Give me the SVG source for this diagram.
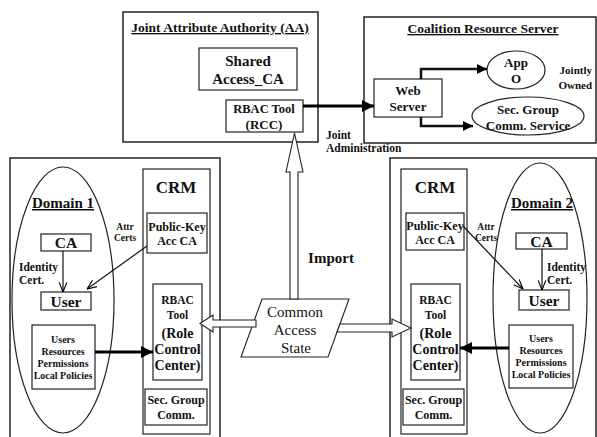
<svg xmlns="http://www.w3.org/2000/svg" width="597" height="437" viewBox="0 0 597 437">
<style>
.b{fill:#fff;stroke:#222;stroke-width:1.2}
.o{fill:none;stroke:#222;stroke-width:1.5}
.t{font-family:"Liberation Serif","Times New Roman",serif;font-weight:bold;fill:#111;text-anchor:middle}
.n{font-family:"Liberation Serif","Times New Roman",serif;fill:#111;text-anchor:middle}
.l{fill:none;stroke:#111;stroke-width:1.2}
.k{fill:none;stroke:#000;stroke-width:3}
.h{fill:#fff;stroke:#222;stroke-width:1.1}
</style>
<defs>
<marker id="fa" viewBox="0 0 10 10" refX="10" refY="5" markerWidth="4" markerHeight="4" orient="auto" markerUnits="strokeWidth"><path d="M0,0L10,5L0,10z" fill="#000"/></marker>
<marker id="va" viewBox="0 0 10 10" refX="10" refY="5" markerWidth="8" markerHeight="8" orient="auto" markerUnits="strokeWidth"><path d="M0,1L10,5L0,9" fill="none" stroke="#000" stroke-width="1.2"/></marker>
</defs>
<rect width="597" height="437" fill="#fff"/>

<g id="aa">
<rect class="o" x="123" y="12" width="195" height="130"/>
<text class="t" x="220" y="32" font-size="13.5" text-decoration="underline">Joint Attribute Authority (AA)</text>
</g>
<g id="shared-ca">
<rect class="b" x="199" y="48" width="98" height="42"/>
<text class="t" x="248" y="66" font-size="15">Shared</text>
<text class="t" x="248" y="84" font-size="15">Access_CA</text>
</g>
<g id="rcc">
<rect class="b" x="226" y="100" width="77" height="32"/>
<text class="t" x="264" y="113" font-size="12.5">RBAC Tool</text>
<text class="t" x="264" y="129" font-size="13">(RCC)</text>
</g>

<g id="coalition">
<rect class="o" x="364" y="17" width="232" height="126"/>
<text class="t" x="483" y="33" font-size="13.5" text-decoration="underline">Coalition Resource Server</text>
</g>
<g id="web-server">
<rect class="b" x="374" y="79" width="68" height="38"/>
<text class="t" x="408" y="95" font-size="13">Web</text>
<text class="t" x="408" y="111" font-size="13">Server</text>
</g>
<g id="app-o">
<ellipse class="b" cx="516" cy="70" rx="29" ry="19"/>
<text class="t" x="516" y="67" font-size="13">App</text>
<text class="t" x="516" y="83" font-size="13">O</text>
</g>
<g id="sec-service">
<ellipse class="b" cx="528" cy="116" rx="56" ry="19"/>
<text class="t" x="528" y="114" font-size="13">Sec. Group</text>
<text class="t" x="528" y="130" font-size="13">Comm. Service</text>
</g>
<g id="jointly-owned">
<text class="t" x="592" y="74" font-size="11" text-anchor="end" style="text-anchor:end">Jointly</text>
<text class="t" x="592" y="89" font-size="11" style="text-anchor:end">Owned</text>
</g>
<g id="joint-admin">
<text class="t" x="326" y="139" font-size="11.5" style="text-anchor:start">Joint</text>
<text class="t" x="326" y="152" font-size="11.5" style="text-anchor:start">Administration</text>
</g>

<g id="left-panel">
<rect class="o" x="10" y="158" width="210" height="300"/>
<rect class="o" x="143" y="169" width="67" height="265" style="stroke-width:1.2"/>
<text class="t" x="176" y="193" font-size="17">CRM</text>
</g>
<g id="domain1">
<ellipse class="b" cx="63" cy="300" rx="51" ry="133"/>
<text class="t" x="63" y="208" font-size="15" text-decoration="underline">Domain 1</text>
</g>
<g id="ca1">
<rect class="b" x="41" y="234" width="50" height="17"/>
<text class="t" x="66" y="248" font-size="15.5">CA</text>
</g>
<g id="user1">
<rect class="b" x="41" y="292" width="50" height="18"/>
<text class="t" x="66" y="307" font-size="15.5">User</text>
</g>
<g id="local1">
<rect class="b" x="32" y="325" width="63" height="64"/>
<text class="t" x="63" y="343" font-size="10">Users</text>
<text class="t" x="63" y="355" font-size="10">Resources</text>
<text class="t" x="63" y="367" font-size="10">Permissions</text>
<text class="t" x="63" y="379" font-size="10">Local Policies</text>
</g>
<g id="pk1">
<rect class="b" x="147" y="213" width="60" height="40"/>
<text class="t" x="177" y="231" font-size="12">Public-Key</text>
<text class="t" x="177" y="245" font-size="12">Acc CA</text>
</g>
<g id="rbac1">
<rect class="b" x="153" y="284" width="49" height="96"/>
<text class="t" x="177.5" y="304" font-size="11.5">RBAC</text>
<text class="t" x="177.5" y="319" font-size="11.5">Tool</text>
<text class="t" x="177.5" y="338" font-size="14">(Role</text>
<text class="t" x="177.5" y="354" font-size="14">Control</text>
<text class="t" x="177.5" y="370" font-size="14">Center)</text>
</g>
<g id="sec1">
<rect class="b" x="145" y="389" width="62" height="36"/>
<text class="t" x="176" y="404" font-size="12">Sec. Group</text>
<text class="t" x="176" y="419" font-size="12">Comm.</text>
</g>
<g id="labels-left">
<text class="t" x="19" y="271" font-size="11.5" style="text-anchor:start">Identity</text>
<text class="t" x="19" y="284" font-size="11.5" style="text-anchor:start">Cert.</text>
<text class="t" x="125" y="230" font-size="9.5">Attr</text>
<text class="t" x="125" y="241" font-size="9.5">Certs</text>
</g>

<g id="right-panel">
<rect class="o" x="390" y="158" width="206" height="300"/>
<rect class="o" x="401" y="169" width="66" height="265" style="stroke-width:1.2"/>
<text class="t" x="435" y="193" font-size="17">CRM</text>
</g>
<g id="domain2">
<ellipse class="b" cx="540" cy="298" rx="47" ry="135"/>
<text class="t" x="542" y="208" font-size="15" text-decoration="underline">Domain 2</text>
</g>
<g id="ca2">
<rect class="b" x="516" y="233" width="51" height="16"/>
<text class="t" x="541.5" y="247" font-size="15.5">CA</text>
</g>
<g id="user2">
<rect class="b" x="519" y="290" width="50" height="20"/>
<text class="t" x="544" y="306" font-size="15.5">User</text>
</g>
<g id="local2">
<rect class="b" x="509" y="325" width="64" height="63"/>
<text class="t" x="541" y="342" font-size="10">Users</text>
<text class="t" x="541" y="354" font-size="10">Resources</text>
<text class="t" x="541" y="366" font-size="10">Permissions</text>
<text class="t" x="541" y="378" font-size="10">Local Policies</text>
</g>
<g id="pk2">
<rect class="b" x="406" y="213" width="58" height="37"/>
<text class="t" x="435" y="230" font-size="12">Public-Key</text>
<text class="t" x="435" y="244" font-size="12">Acc CA</text>
</g>
<g id="rbac2">
<rect class="b" x="411" y="284" width="49" height="96"/>
<text class="t" x="435.5" y="304" font-size="11.5">RBAC</text>
<text class="t" x="435.5" y="319" font-size="11.5">Tool</text>
<text class="t" x="435.5" y="338" font-size="14">(Role</text>
<text class="t" x="435.5" y="354" font-size="14">Control</text>
<text class="t" x="435.5" y="370" font-size="14">Center)</text>
</g>
<g id="sec2">
<rect class="b" x="403" y="389" width="61" height="36"/>
<text class="t" x="433.5" y="404" font-size="12">Sec. Group</text>
<text class="t" x="433.5" y="419" font-size="12">Comm.</text>
</g>
<g id="labels-right">
<text class="t" x="547" y="271" font-size="11.5" style="text-anchor:start">Identity</text>
<text class="t" x="547" y="284" font-size="11.5" style="text-anchor:start">Cert.</text>
<text class="t" x="486" y="230" font-size="9.5">Attr</text>
<text class="t" x="486" y="241" font-size="9.5">Certs</text>
</g>

<g id="common-access-state">
<polygon class="h" points="262,299 349,299 328,357 241,357"/>
<text class="n" x="295" y="317" font-size="15">Common</text>
<text class="n" x="295" y="335" font-size="15">Access</text>
<text class="n" x="296" y="353" font-size="15">State</text>
</g>
<g id="import-label">
<text class="t" x="331" y="263" font-size="15">Import</text>
</g>

<g id="connectors">
<line class="k" x1="303" y1="106" x2="374" y2="106" marker-end="url(#fa)"/>
<polyline class="l" style="stroke-width:2.5" points="421,79 421,69 487,69" marker-end="url(#fa)"/>
<polyline class="l" style="stroke-width:2.5" points="421,117 421,126 473,126" marker-end="url(#fa)"/>
<line class="l" x1="63" y1="251" x2="63" y2="292" marker-end="url(#va)"/>
<line class="l" x1="147" y1="246" x2="87" y2="289" marker-end="url(#va)"/>
<line class="l" x1="542" y1="249" x2="542" y2="290" marker-end="url(#va)"/>
<line class="l" x1="463" y1="226" x2="523" y2="289" marker-end="url(#va)"/>
<line class="k" x1="95" y1="352" x2="153" y2="352" marker-end="url(#fa)"/>
<line class="k" x1="509" y1="348" x2="460" y2="348" marker-end="url(#fa)"/>
<polygon class="h" points="290,299 290,172 286,172 294.5,133 303,172 298,172 298,299"/>
<polygon class="h" points="256,320 213,320 213,315 200,323.5 213,332 213,327 256,327"/>
<polygon class="h" points="340,324 392,324 392,319 411,328 392,337 392,332 337,332"/>
</g>
</svg>
